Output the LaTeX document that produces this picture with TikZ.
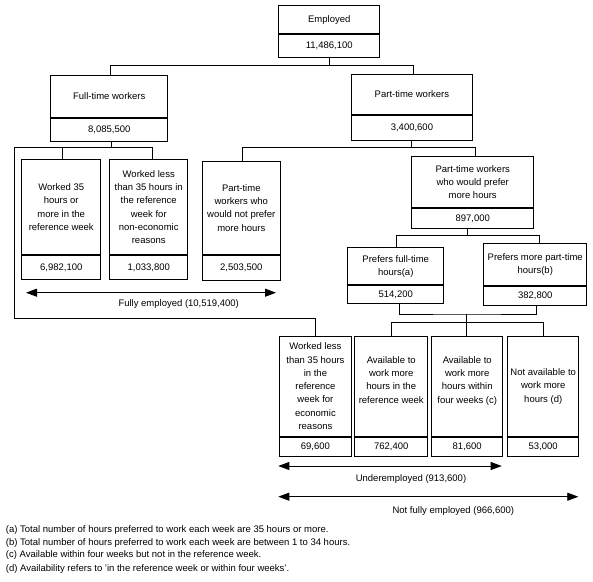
\documentclass[tikz,border=0pt]{standalone}
\usepackage{fontspec}
\setmainfont{Liberation Sans}
\usetikzlibrary{arrows.meta}
\begin{document}
\begin{tikzpicture}[x=1pt,y=-1pt,
  txt/.style={font={\fontsize{9.5}{13.3}\selectfont}, text=black},
  part/.style={txt, draw=black, line width=0.85pt, anchor=north west, align=center, inner sep=0pt},
  vpart/.style={txt, draw=black, line width=0.85pt, anchor=north, align=center, inner sep=0pt},
  conn/.style={draw=black, line width=0.85pt},
  dimarr/.style={draw=black, line width=0.85pt, {Triangle[length=11pt,width=8pt]}-{Triangle[length=11pt,width=8pt]}},
  lbl/.style={txt, inner sep=0pt},
  note/.style={txt, inner sep=0pt, anchor=west}]
\useasboundingbox (0,0) rectangle (593,581);

% Employed
\node[part, minimum width=101pt, minimum height=28.3pt] (emp) at (278.3,5) {Employed};
\node[vpart, minimum width=101pt, minimum height=22.7pt] (empv) at (emp.south) {11,486,100};

% Full-time / Part-time
\node[part, minimum width=117pt, minimum height=41.4pt] (ft) at (50.3,75.3) {Full-time workers};
\node[vpart, minimum width=117pt, minimum height=23.3pt] (ftv) at (ft.south) {8,085,500};
\node[part, minimum width=120.4pt, minimum height=40.3pt] (pt) at (351.3,74) {Part-time workers};
\node[vpart, minimum width=120.4pt, minimum height=25pt] (ptv) at (pt.south) {3,400,600};

% Second level
\node[part, minimum width=79pt, minimum height=95pt] (A) at (21.3,159.3) {Worked 35\\hours or\\more in the\\reference week};
\node[vpart, minimum width=79pt, minimum height=24pt] (Av) at (A.south) {6,982,100};
\node[part, minimum width=78pt, minimum height=95pt] (B) at (109.3,159.3) {Worked less\\than 35 hours in\\the reference\\week for\\non-economic\\reasons};
\node[vpart, minimum width=78pt, minimum height=24pt] (Bv) at (B.south) {1,033,800};
\node[part, minimum width=78.3pt, minimum height=93.6pt] (C) at (201.7,160.7) {Part-time\\workers who\\would not prefer\\more hours};
\node[vpart, minimum width=78.3pt, minimum height=25pt] (Cv) at (C.south) {2,503,500};
\node[part, minimum width=122pt, minimum height=51.3pt] (PP) at (411.3,156) {Part-time workers\\who would prefer\\more hours};
\node[vpart, minimum width=122pt, minimum height=20pt] (PPv) at (PP.south) {897,000};

% Third level
\node[part, minimum width=96pt, minimum height=37pt] (PFT) at (347.3,247.3) {Prefers full-time\\hours(a)};
\node[vpart, minimum width=96pt, minimum height=18pt] (PFTv) at (PFT.south) {514,200};
\node[part, minimum width=103pt, minimum height=42pt] (PPT) at (483.3,243.3) {Prefers more part-time\\hours(b)};
\node[vpart, minimum width=103pt, minimum height=19pt] (PPTv) at (PPT.south) {382,800};

% Bottom level
\node[part, minimum width=71.4pt, minimum height=99.7pt] (E) at (279.3,336) {Worked less\\than 35 hours\\in the\\reference\\week for\\economic\\reasons};
\node[vpart, minimum width=71.4pt, minimum height=19.5pt] (Ev) at (E.south) {69,600};
\node[part, minimum width=73pt, minimum height=99.7pt] (F) at (354.3,336) {Available to\\work more\\hours in the\\reference week\\ \mbox{}};
\node[vpart, minimum width=73pt, minimum height=19.5pt] (Fv) at (F.south) {762,400};
\node[part, minimum width=71pt, minimum height=99.7pt] (G) at (431.3,336) {Available to\\work more\\hours within\\four weeks (c)\\ \mbox{}};
\node[vpart, minimum width=71pt, minimum height=19.5pt] (Gv) at (G.south) {81,600};
\node[part, minimum width=71pt, minimum height=99.7pt] (H) at (507.3,336) {Not available to\\work more\\hours (d)};
\node[vpart, minimum width=71pt, minimum height=19.5pt] (Hv) at (H.south) {53,000};

% helper rows
\coordinate (r1) at (0,65.3);
\coordinate (r2) at (0,147);
\coordinate (r3) at (0,235.7);
\coordinate (r4) at (0,314);
\coordinate (r5) at (0,322.3);
\coordinate (ol) at (14,318.3);

% connectors
\draw[conn] (empv.south) -- (empv.south |- r1) -| ([xshift=1.5pt]ft.north);
\draw[conn] (empv.south |- r1) -| ([xshift=1pt]pt.north);

\draw[conn] ([xshift=2pt]ftv.south) -- ([xshift=2pt]ftv.south |- r2) -| ([xshift=1.5pt]A.north);
\draw[conn] ([xshift=2pt]ftv.south |- r2) -| ([xshift=3.4pt]B.north);
\draw[conn] ([xshift=2pt]ftv.south |- r2) -| (ol) -| (E.north);

\draw[conn] ([xshift=-1pt]ptv.south) -- ([xshift=-1pt]ptv.south |- r2) -| ([xshift=1pt]C.north);
\draw[conn] ([xshift=-1pt]ptv.south |- r2) -| ([xshift=2.7pt]PP.north);

\draw[conn] ([xshift=-5pt]PPv.south) -- ([xshift=-5pt]PPv.south |- r3) -| ([xshift=1pt]PFT.north);
\draw[conn] ([xshift=-5pt]PPv.south |- r3) -| ([xshift=4.5pt]PPT.north);

\draw[conn] ([xshift=4pt]PFTv.south) |- ([xshift=-1pt]G.north |- r4) -| ([xshift=1.5pt]PPTv.south);
\draw[conn] ([xshift=-1pt]G.north |- r4) -- ([xshift=-1pt]G.north |- r5) -| (F.north);
\draw[conn] ([xshift=-1pt]G.north |- r5) -- ([xshift=-1pt]G.north);
\draw[conn] ([xshift=-1pt]G.north |- r5) -| (H.north);

% dimension arrows
\coordinate (fe1) at (26,292.7);
\coordinate (fe2) at (276,292.7);
\coordinate (ue1) at (278.3,466);
\coordinate (ue2) at (501.7,466);
\coordinate (ne1) at (278.3,496.7);
\coordinate (ne2) at (578.3,496.7);
\draw[dimarr] (fe1) -- (fe2);
\draw[dimarr] (ue1) -- (ue2);
\draw[dimarr] (ne1) -- (ne2);
\node[lbl] (fel) at (178.7,304) {Fully employed (10,519,400)};
\node[lbl] (uel) at (411,478.7) {Underemployed (913,600)};
\node[lbl] (nel) at (453.3,511) {Not fully employed (966,600)};

% footnotes
\node[note] (na) at (5.7,530.5) {(a) Total number of hours preferred to work each week are 35 hours or more.};
\node[note] (nb) at (5.7,543) {(b) Total number of hours preferred to work each week are between 1 to 34 hours.};
\node[note] (nc) at (5.7,555.5) {(c) Available within four weeks but not in the reference week.};
\node[note] (nd) at (5.7,569.5) {(d) Availability refers to 'in the reference week or within four weeks'.};
\end{tikzpicture}
\end{document}
